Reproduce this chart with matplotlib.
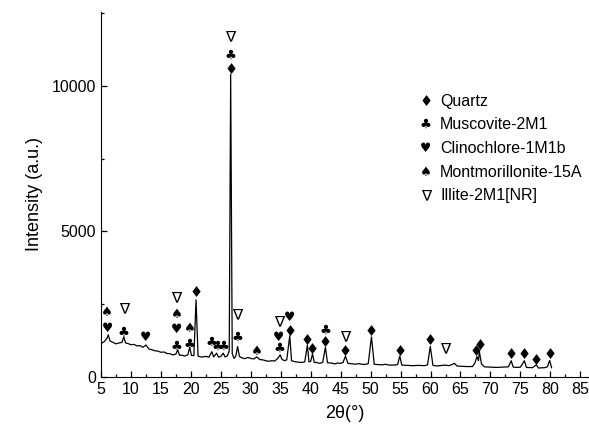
import matplotlib
matplotlib.use("Agg")
import matplotlib.pyplot as plt
from matplotlib.ticker import MultipleLocator

plt.rcParams['font.family'] = ['Liberation Sans', 'DejaVu Sans']

# XRD pattern (2theta in degrees, intensity in a.u.)
two_theta = [5.0, 5.5, 6.0, 6.2, 6.5, 7.0, 7.5, 8.0, 8.5, 8.8, 9.1, 9.5, 10.0, 10.5,
             11.0, 11.5, 12.0, 12.5, 13.0, 13.5, 14.0, 14.5, 15.0, 15.5, 16.0, 16.5,
             17.0, 17.5, 17.8, 18.1, 18.5, 19.0, 19.5, 19.8, 20.1, 20.5, 20.86, 21.2,
             21.6, 22.0, 22.5, 23.0, 23.5, 23.8, 24.3, 24.6, 25.0, 25.4, 25.7, 26.1,
             26.4, 26.64, 26.9, 27.2, 27.5, 27.8, 28.1, 28.5, 29.0, 29.5, 30.0, 30.5,
             31.0, 31.5, 32.0, 32.5, 33.0, 33.5, 34.0, 34.5, 34.9, 35.2, 35.6, 36.0,
             36.5, 36.8, 37.5, 38.0, 38.5, 39.0, 39.45, 39.7, 40.0, 40.3, 40.6, 41.0,
             41.5, 42.0, 42.45, 42.8, 43.5, 44.0, 44.5, 45.0, 45.4, 45.8, 46.2, 47.0,
             47.5, 48.0, 48.5, 49.0, 49.6, 50.14, 50.6, 51.0, 52.0, 52.5, 53.0, 54.0,
             54.5, 54.87, 55.2, 56.0, 57.0, 58.0, 59.0, 59.5, 59.96, 60.4, 61.0, 62.0,
             62.5, 63.0, 63.5, 64.0, 64.4, 65.0, 66.0, 67.0, 67.4, 67.74, 68.0, 68.14,
             68.5, 69.0, 70.0, 71.0, 72.0, 73.0, 73.46, 73.8, 74.5, 75.0, 75.66, 76.0,
             77.0, 77.67, 78.0, 79.0, 79.5, 79.88, 80.2]
intensity = [1150, 1210, 1330, 1450, 1240, 1190, 1140, 1170, 1190, 1380, 1170, 1150, 1110, 1120,
             1070, 1080, 1020, 1100, 960, 940, 900, 890, 850, 860, 810, 800,
             760, 790, 930, 750, 750, 720, 770, 1020, 740, 740, 2650, 720,
             690, 690, 710, 680, 870, 690, 820, 680, 710, 820, 690, 730,
             900, 10400, 800, 640, 720, 1050, 710, 660, 630, 670, 640, 620,
             690, 600, 590, 560, 540, 560, 550, 640, 760, 610, 560, 590,
             1420, 560, 520, 510, 500, 520, 1100, 520, 540, 800, 500, 500,
             470, 500, 1020, 490, 480, 450, 480, 470, 500, 720, 470, 450,
             440, 460, 440, 430, 460, 1380, 440, 430, 420, 440, 410, 410,
             430, 720, 410, 400, 390, 400, 390, 420, 1050, 400, 380, 400,
             410, 390, 420, 470, 380, 370, 360, 360, 480, 700, 560, 880,
             450, 350, 340, 330, 340, 350, 560, 340, 330, 340, 560, 330,
             320, 420, 310, 320, 350, 570, 320]

# phase markers above the peaks
mark_theta = [6.0, 6.0, 8.8, 8.8, 12.5, 17.6, 17.6, 17.6, 17.6, 19.8, 19.8, 20.86,
              23.4, 24.4, 25.4, 26.64, 26.64, 26.64, 27.8, 27.8, 31.0, 34.7, 34.7, 34.7,
              36.5, 36.5, 39.45, 40.3, 42.4, 42.4, 45.8, 45.8, 50.14, 54.87, 59.96,
              62.4, 67.6, 68.3, 73.46, 75.66, 77.67, 79.88]
mark_int = [2230, 1680, 2340, 1550, 1370, 2710, 2160, 1620, 1070, 1650, 1130, 2890,
            1200, 1050, 1050, 11680, 11060, 10550, 2130, 1370, 890, 1890, 1370, 1000,
            2030, 1550, 1270, 930, 1620, 1170, 1370, 860, 1550, 890, 1240,
            960, 860, 1100, 760, 760, 580, 760]
mark_sym = ['♠', '♥', '∇', '♣', '♥', '∇', '♠', '♥', '♣', '♠', '♣', '♦',
            '♣', '♣', '♣', '∇', '♣', '♦', '∇', '♣', '♠', '∇', '♥', '♣',
            '♥', '♦', '♦', '♦', '♣', '♦', '∇', '♦', '♦', '♦', '♦',
            '∇', '♦', '♦', '♦', '♦', '♦', '♦']

legend_sym = ['♦', '♣', '♥', '♠', '∇']
legend_lab = ['Quartz', 'Muscovite-2M1', 'Clinochlore-1M1b', 'Montmorillonite-15A',
              'Illite-2M1[NR]']

fig = plt.figure(figsize=(5.89, 4.42), dpi=100)
ax = fig.add_axes([0.1715, 0.147, 0.827, 0.826])

ax.plot(two_theta, intensity, color='black', linewidth=0.9)

sizes = {'♦': 10.5, '♣': 9.5, '♥': 9, '♠': 9.5, '∇': 11}
for t, y, s in zip(mark_theta, mark_int, mark_sym):
    ax.text(t, y, s, ha='center', va='center', fontsize=sizes[s], color='black',
            family=['DejaVu Sans'])

# legend drawn as text
for i, (s, lab) in enumerate(zip(legend_sym, legend_lab)):
    yy = 0.756 - i * 0.065
    ax.text(0.667, yy, s, transform=ax.transAxes, ha='center', va='center',
            fontsize=sizes[s], family=['DejaVu Sans'])
    ax.text(0.696, yy, lab, transform=ax.transAxes, ha='left', va='center',
            fontsize=11.5)

ax.set_xlim(5, 86.3)
ax.set_ylim(0, 12540)
ax.xaxis.set_major_locator(MultipleLocator(5))
ax.xaxis.set_minor_locator(MultipleLocator(2.5))
ax.yaxis.set_major_locator(MultipleLocator(5000))
ax.yaxis.set_minor_locator(MultipleLocator(2500))
ax.tick_params(which='both', direction='in', labelsize=11.5, width=0.9)
ax.tick_params(which='major', length=4.5)
ax.tick_params(which='minor', length=2.5)
ax.spines['top'].set_visible(False)
ax.spines['right'].set_visible(False)

ax.set_xlabel('2θ(°)', fontsize=13, labelpad=6)
ax.set_ylabel('Intensity (a.u.)', fontsize=13, labelpad=6)

fig.savefig('out.png', dpi=100)
